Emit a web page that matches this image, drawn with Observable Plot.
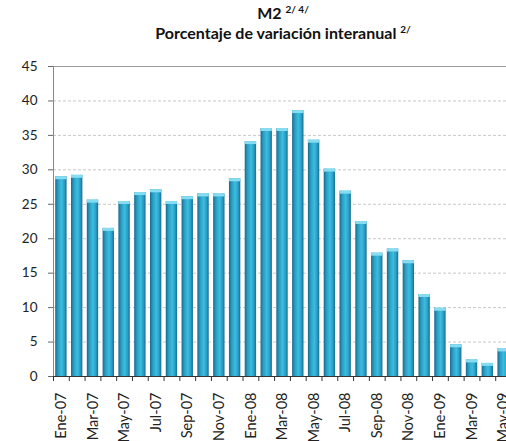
<!DOCTYPE html>
<html><head><meta charset="utf-8">
<script src="https://cdn.jsdelivr.net/npm/d3@7"></script>
<script src="https://cdn.jsdelivr.net/npm/@observablehq/plot@0.6"></script>
<style>
html,body{margin:0;background:#fff;overflow:hidden;}
#title{width:506px;height:45px;text-align:center;padding-left:60px;box-sizing:border-box;font-family:Lato,sans-serif;font-weight:bold;font-size:16px;line-height:20px;padding-top:3px;color:#111}
#title sup{font-size:10px;vertical-align:6px;line-height:0}
</style></head><body>
<div id="title"><div>M2 <sup>2/ 4/</sup></div><div>Porcentaje de variación interanual <sup>2/</sup></div></div>
<div id="chart"></div>
<script>
const months = ["Ene-07","Feb-07","Mar-07","Abr-07","May-07","Jun-07","Jul-07","Ago-07","Sep-07","Oct-07","Nov-07","Dic-07",
  "Ene-08","Feb-08","Mar-08","Abr-08","May-08","Jun-08","Jul-08","Ago-08","Sep-08","Oct-08","Nov-08","Dic-08",
  "Ene-09","Feb-09","Mar-09","Abr-09","May-09"];
const values = [29.0,29.2,25.6,21.5,25.4,26.7,27.1,25.4,26.1,26.5,26.5,28.7,
  34.1,36.0,36.0,38.6,34.3,30.1,26.9,22.5,17.9,18.5,16.8,11.9,
  9.9,4.6,2.4,1.9,4.0];
const xTickLabels = months.filter((d, i) => i % 2 === 0);
const yTicks = [0,5,10,15,20,25,30,35,40,45];

const data = months.map((m, i) => ({month: m, value: values[i]}));
const xRange = [53, 511];
const step = (xRange[1] - xRange[0]) / months.length;

const chart = Plot.plot({
  width: 506,
  height: 396,
  marginTop: 21,
  marginBottom: 65,
  marginLeft: 53,
  marginRight: 0,
  style: {fontFamily: "Lato, sans-serif", fontSize: "13.5px", color: "#222", background: "#fff"},
  x: {domain: months, range: xRange, paddingInner: 0.28, paddingOuter: 0.14, round: false},
  y: {domain: [0, 45]},
  marks: [
    Plot.ruleY(yTicks.filter(d => d > 0 && d < 45), {stroke: "#c8c8c8", strokeDasharray: "3,2"}),
    Plot.ruleY([45], {stroke: "#999"}),
    Plot.barY(data, {x: "month", y: "value", fill: "url(#barGrad)"}),
    Plot.tickY(data, {x: "month", y: "value", stroke: "#86dcf0", strokeWidth: 3, dy: 1}),
    Plot.frame({anchor: "left", stroke: "#888", strokeDasharray: "1,1"}),
    Plot.ruleY([0], {stroke: "#333"}),
    Plot.ruleX(months, {x: d => d, y1: 0, y2: 0, insetBottom: -5, dx: -step / 2, stroke: "#333"}),
    Plot.axisY({ticks: yTicks, tickSize: 5, tickPadding: 11, tickFormat: d => d, label: null, stroke: "#666"}),
    Plot.axisX({ticks: xTickLabels, tickRotate: -90, tickSize: 0, tickPadding: 16, label: null, fontSize: 14.5})
  ]
});

const ns = "http://www.w3.org/2000/svg";
const defs = document.createElementNS(ns, "defs");
const grad = document.createElementNS(ns, "linearGradient");
grad.setAttribute("id", "barGrad");
grad.setAttribute("x1", "0"); grad.setAttribute("x2", "1");
grad.setAttribute("y1", "0"); grad.setAttribute("y2", "0");
[["0%", "#1a6a8a"], ["25%", "#2a9ec5"], ["55%", "#3cbde0"], ["80%", "#2a9fc6"], ["100%", "#1a6b8c"]].forEach(([o, c]) => {
  const s = document.createElementNS(ns, "stop");
  s.setAttribute("offset", o); s.setAttribute("stop-color", c);
  grad.appendChild(s);
});
defs.appendChild(grad);
chart.insertBefore(defs, chart.firstChild);
document.getElementById("chart").appendChild(chart);
</script>
</body></html>
